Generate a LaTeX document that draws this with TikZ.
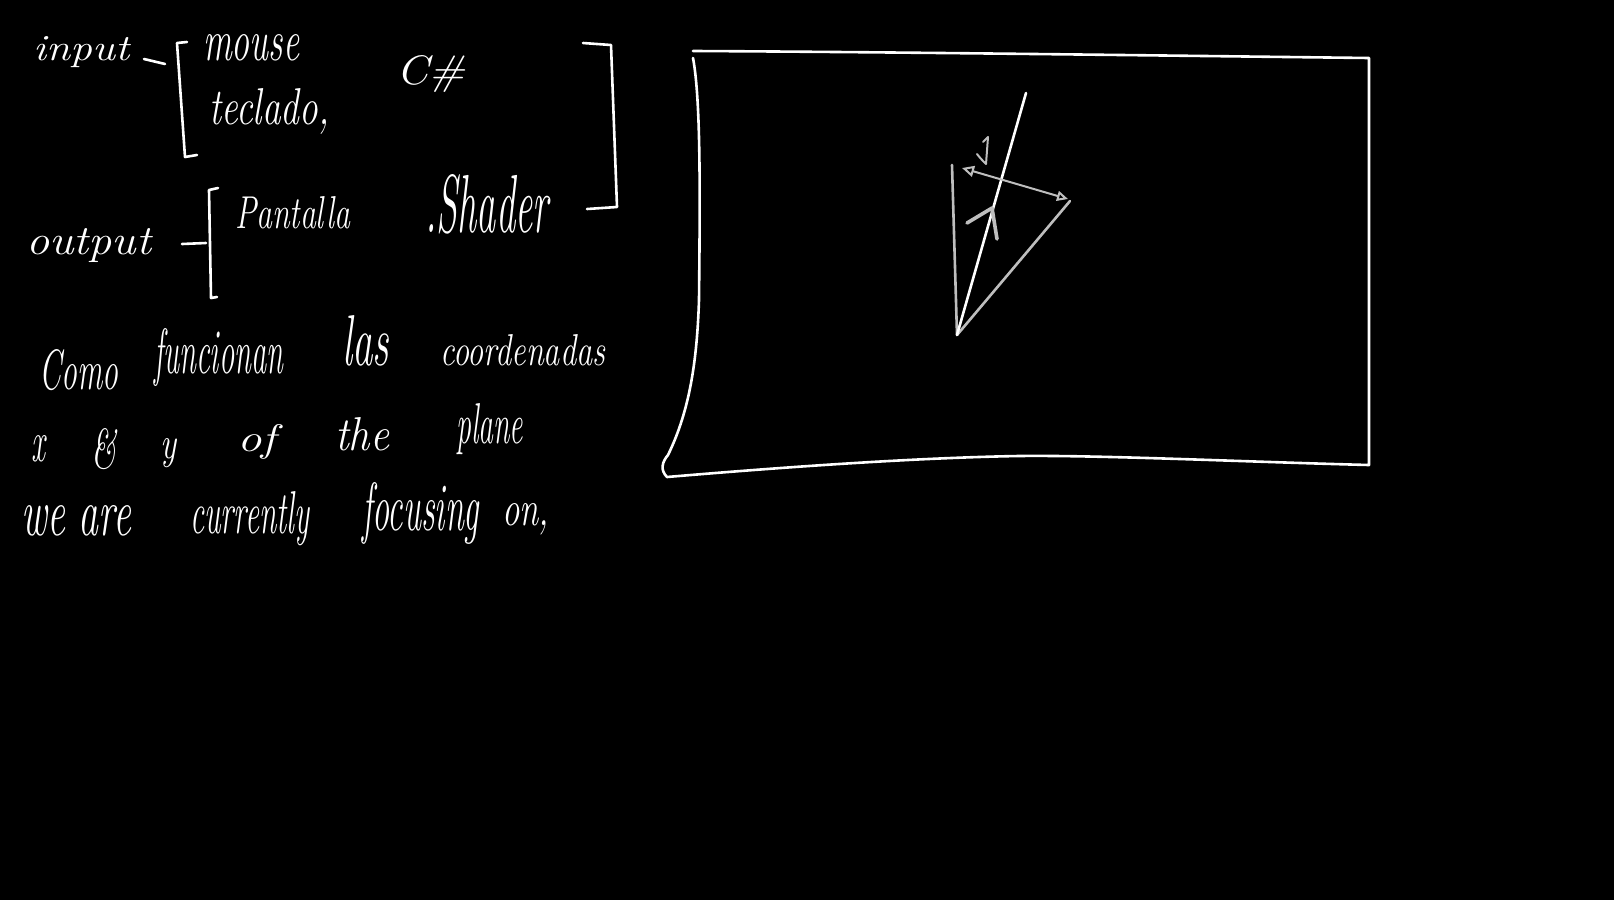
\documentclass[tikz,border=0pt]{standalone}
\usetikzlibrary{arrows.meta}
\definecolor{chalkgray}{RGB}{190,190,190}
\newcommand{\hwtext}[3]{\resizebox{#1pt}{#2pt}{\itshape #3}}
\begin{document}
\begin{tikzpicture}[x=1pt,y=-1pt,
  ink/.style={draw=white,line width=2.6pt,line cap=round,line join=round},
  gink/.style={draw=chalkgray,line width=2.6pt,line cap=round,line join=round},
  word/.style={text=white,anchor=base west,inner sep=0pt,font=\fontsize{38}{40}\selectfont}]
\fill[black] (0,0) rectangle (1614,900);
\useasboundingbox (0,0) rectangle (1614,900);

% ---- input / output brackets ----
\node[word] (input) at (33,60) {\hwtext{96}{24}{input}};
\draw[ink] (144,59) -- (165,64);
\draw[ink] (187,42) -- (177,43) -- (185,157) -- (197,155);
\node[word] (mouse) at (203,60) {\hwtext{96}{26}{mouse}};
\node[word] (teclado) at (209,124) {\hwtext{120}{36}{teclado,}};
\node[word] (csharp) at (396,84) {\hwtext{69}{29}{C\#}};
\draw[ink] (583,43) -- (611,45) -- (617,207) -- (587,209);

\node[word] (output) at (26,254) {\hwtext{125}{26}{output}};
\draw[ink] (182,244) -- (206,243);
\draw[ink] (218,188) -- (209,190) -- (211,298) -- (217,297);
\node[word] (pantalla) at (235,228) {\hwtext{115}{32}{Pantalla}};
\node[word] (shader) at (425,232) {\hwtext{123}{58}{.Shader}};

% ---- sentence ----
\node[word] (w1) at (39,389) {\hwtext{79}{40}{Como}};
\node[word] (w2) at (154,373) {\hwtext{129}{45}{funcionan}};
\node[word] (w3) at (342,365) {\hwtext{47}{50}{las}};
\node[word] (w4) at (440,365) {\hwtext{165}{31}{coordenadas}};
\node[word] (w5) at (31,461) {\hwtext{14}{26}{x}};
\node[word] (w6) at (91,468) {\hwtext{25}{40}{\&}};
\node[word] (w7) at (160,458) {\hwtext{16}{20}{y}};
\node[word] (w8) at (237,451) {\hwtext{39}{27}{of}};
\node[word] (w9) at (335,450) {\hwtext{54}{33}{the}};
\node[word] (w10) at (456,443) {\hwtext{67}{40}{plane}};
\node[word] (w11) at (21,535) {\hwtext{110}{30}{we are}};
\node[word] (w12) at (190,533) {\hwtext{119}{42}{currently}};
\node[word] (w13) at (362,530) {\hwtext{117}{48}{focusing}};
\node[word] (w14) at (502,525) {\hwtext{47}{22}{on,}};

% ---- screen rectangle ----
\draw[ink] (693,51) .. controls (900,52) and (1200,56) .. (1369,58)
  -- (1369,465)
  .. controls (1250,462) and (1100,455) .. (1019,456)
  .. controls (900,458) and (750,470) .. (667,477)
  .. controls (660,470) and (662,462) .. (668,455)
  .. controls (690,410) and (697,360) .. (699,300)
  .. controls (700,200) and (701,100) .. (693,58);

% ---- triangle sketch ----
\coordinate (apex) at (957,335);
\coordinate (ltop) at (952,165);
\coordinate (rcorner) at (1070,201);
\coordinate (wtop) at (1026,93);
\draw[gink] (ltop) -- (apex) -- (rcorner);
\draw[ink] (apex) -- (wtop);
\coordinate (da) at (962,168);
\coordinate (db) at (1068,199);
\draw[draw=chalkgray,line width=2pt,{Triangle[open,length=12pt,width=11pt]}-{Triangle[open,length=11pt,width=10pt]}] (da) -- (db);
\coordinate (oa) at (988,137);
\coordinate (ob) at (986,164);
\draw[draw=chalkgray,line width=2pt,line cap=round] (oa) -- (ob);
\draw[draw=chalkgray,line width=2pt,line cap=round] (977,154) .. controls (980,158) and (983,161) .. (986,164);
\draw[draw=chalkgray,line width=2pt,line cap=round] (983,142) -- (988,137);
\draw[draw=chalkgray,line width=3.6pt,line cap=round,line join=round] (967,223) -- (992,208) -- (997,239);
\end{tikzpicture}
\end{document}
